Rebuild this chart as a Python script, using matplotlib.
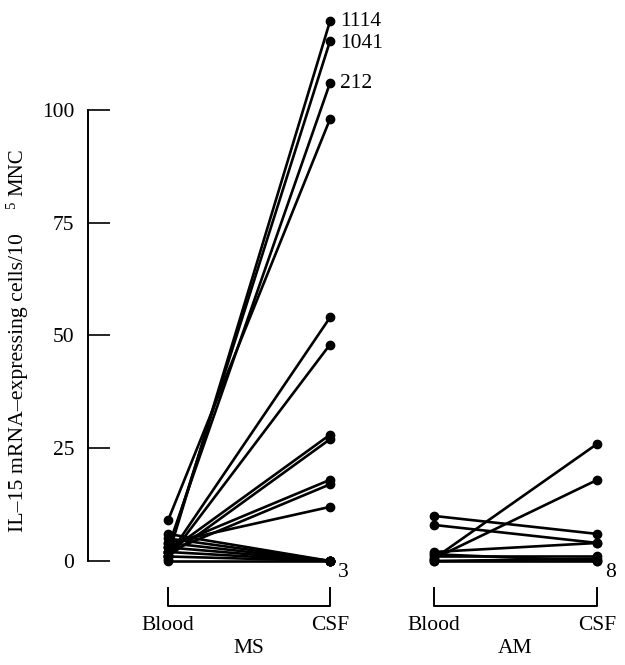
import numpy as np
import matplotlib
matplotlib.use("Agg")
import matplotlib.pyplot as plt

plt.rcParams['font.family'] = ['Liberation Serif', 'DejaVu Serif']

# MS patients: blood vs CSF (values above 100 are drawn on a broken scale)
ms_blood = [9, 1, 2, 3, 1, 0.5, 2, 1, 3, 2, 4, 6, 5, 4, 3, 2, 1, 0]
ms_csf = [98, 119.7, 115.3, 106, 54, 48, 28, 27, 18, 17, 12, 0, 0, 0, 0, 0, 0, 0]
ms_top_labels = ["1114", "1041", "212"]
ms_top_values = [119.7, 114.8, 105.8]

# AM patients
am_blood = [10, 8, 0.5, 0.5, 2, 1, 1.5, 0, 0]
am_csf = [6, 4, 26, 18, 4, 1, 0, 0, 0.5]

groups = ["MS", "AM"]
sites = ["Blood", "CSF"]
yticks = [0, 25, 50, 75, 100]
zero_counts = ["3", "8"]

xpos = [(0, 1), (1.64, 2.65)]
fs = 15.5

fig = plt.figure(figsize=(6.25, 6.65), dpi=100)
ax = fig.add_axes([0.1408, 0.1564, 0.8432, 0.8274])
ax.set_xlim(-0.494, 2.759)
ax.set_ylim(0, 122)

for (xb, xc), bl, cs in zip(xpos, [ms_blood, am_blood], [ms_csf, am_csf]):
    for b, c in zip(bl, cs):
        ax.plot([xb, xc], [b, c], color='black', lw=1.9, marker='o',
                markersize=6, clip_on=False, solid_capstyle='round')

for lab, v in zip(ms_top_labels, ms_top_values):
    ax.text(xpos[0][1] + 0.06, v, lab, fontsize=fs, va='center', ha='left')

for (xb, xc), lab in zip(xpos, zero_counts):
    ax.text(xc + 0.05, -2.6, lab, fontsize=fs, va='center', ha='left')

# brackets and category labels below
for (xb, xc), g in zip(xpos, groups):
    ax.plot([xb, xb, xc, xc], [-6, -10, -10, -6], color='black', lw=1.4,
            clip_on=False)
    ax.text(xb, -14.3, sites[0], fontsize=fs, ha='center', va='center')
    ax.text(xc, -14.3, sites[1], fontsize=fs, ha='center', va='center')
    ax.text((xb + xc) / 2, -19.4, g, fontsize=fs, ha='center', va='center')

for s in ['top', 'right', 'bottom']:
    ax.spines[s].set_visible(False)
ax.spines['left'].set_bounds(0, 100)
ax.spines['left'].set_linewidth(1.4)
ax.set_xticks([])
ax.set_yticks(yticks)
ax.tick_params(axis='y', direction='in', length=16, width=1.2, pad=10,
               labelsize=fs)

# y label, drawn in pieces like the original (loose superscript)
fig.text(0.029, 0.2, "IL\u201315 mRNA\u2013expressing cells/10",
         rotation=90, fontsize=15.7, ha='center', va='bottom')
fig.text(0.018, 0.692, "5", rotation=90, fontsize=10.5, ha='center',
         va='center')
fig.text(0.029, 0.7774, "MNC", rotation=90, fontsize=15, ha='center',
         va='top')

fig.savefig("out.png", dpi=100)
